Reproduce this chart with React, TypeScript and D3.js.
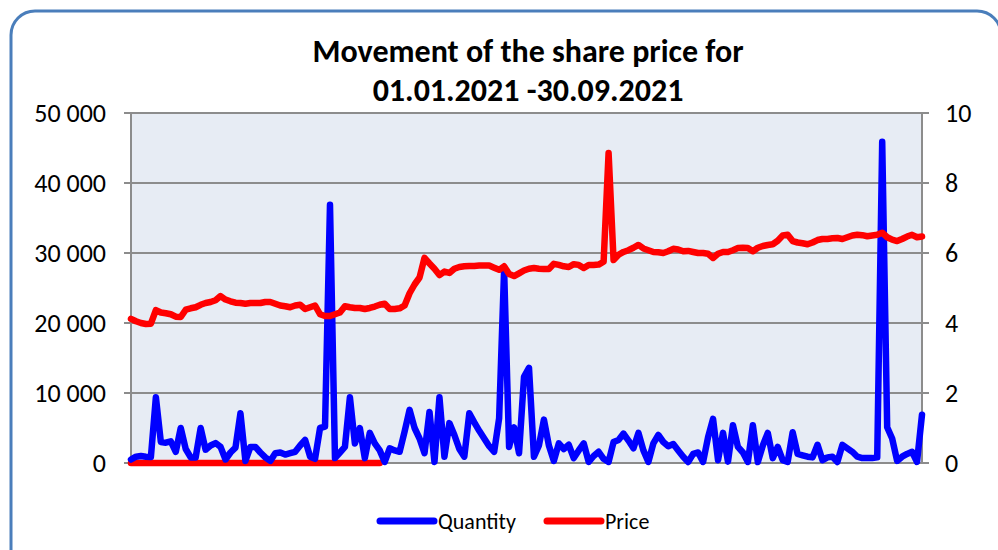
import React, { useRef, useEffect } from "react";
import * as d3 from "d3";

// trading days, Jan 1 - Sep 30 2021 (index only)
const quantity: number[] = [
	500, 900, 1000, 900, 850, 9400, 3000, 2900, 3100, 1600,
	5000, 2000, 800, 800, 5000, 1900, 2500, 2850, 2300, 500,
	1500, 2200, 7100, 300, 2300, 2300, 1500, 800, 300, 1400,
	1500, 1200, 1400, 1600, 2500, 3300, 900, 600, 5000, 5200,
	36900, 700, 1500, 2300, 9400, 2800, 5000, 700, 4300, 2800,
	1800, 150, 2100, 1800, 1600, 4500, 7600, 5000, 3500, 1400,
	7300, 150, 9400, 900, 5700, 4000, 2000, 900, 7100, 5800,
	4600, 3500, 2400, 1600, 6400, 27600, 2300, 5100, 1400, 12300,
	13600, 900, 2500, 6200, 2500, 300, 2800, 2000, 2600, 700,
	1800, 2800, 150, 1000, 1600, 600, 150, 3000, 3300, 4200,
	3200, 2100, 4300, 1800, 150, 2800, 4000, 3000, 2400, 2700,
	1800, 900, 150, 1300, 1500, 150, 3700, 6300, 400, 4300,
	200, 5400, 2300, 1500, 150, 5400, 150, 2500, 4300, 700,
	2300, 400, 150, 4400, 1300, 1100, 900, 800, 2600, 400,
	800, 900, 150, 2600, 2100, 1600, 900, 700, 700, 700,
	800, 45900, 5100, 3500, 300, 900, 1300, 1600, 150, 6900,
];

const price: number[] = [
	4.12, 4.05, 4.0, 3.97, 3.98, 4.37, 4.3, 4.28, 4.25, 4.18,
	4.17, 4.38, 4.42, 4.45, 4.52, 4.57, 4.6, 4.65, 4.77, 4.67,
	4.62, 4.58, 4.57, 4.55, 4.57, 4.57, 4.57, 4.6, 4.6, 4.55,
	4.5, 4.48, 4.45, 4.5, 4.52, 4.4, 4.45, 4.5, 4.25, 4.2,
	4.2, 4.25, 4.3, 4.48, 4.45, 4.43, 4.43, 4.4, 4.43, 4.47,
	4.52, 4.55, 4.4, 4.4, 4.42, 4.5, 4.85, 5.1, 5.3, 5.86,
	5.7, 5.55, 5.37, 5.47, 5.43, 5.55, 5.6, 5.62, 5.63, 5.63,
	5.64, 5.64, 5.64, 5.58, 5.52, 5.62, 5.4, 5.34, 5.42, 5.5,
	5.55, 5.57, 5.55, 5.54, 5.54, 5.69, 5.66, 5.62, 5.6, 5.68,
	5.66, 5.57, 5.66, 5.66, 5.67, 5.75, 8.86, 5.8, 5.95, 6.03,
	6.08, 6.15, 6.23, 6.13, 6.08, 6.03, 6.02, 6.0, 6.05, 6.12,
	6.1, 6.05, 6.06, 6.03, 6.0, 6.0, 5.98, 5.86, 5.98, 6.03,
	6.03, 6.08, 6.14, 6.15, 6.14, 6.05, 6.15, 6.2, 6.23, 6.25,
	6.35, 6.5, 6.52, 6.34, 6.3, 6.28, 6.25, 6.3, 6.37, 6.4,
	6.4, 6.42, 6.43, 6.4, 6.45, 6.5, 6.52, 6.51, 6.48, 6.5,
	6.52, 6.58, 6.45, 6.38, 6.34, 6.4, 6.47, 6.52, 6.45, 6.47,
];

// leftover red series lying on zero for the first weeks
const priceZeroDays = 51;

const leftTicks = [0, 10000, 20000, 30000, 40000, 50000];
const rightTicks = [0, 2, 4, 6, 8, 10];
const titleLines = ["Movement of the share price for", "01.01.2021 -30.09.2021"];
const seriesNames = ["Quantity", "Price"];
const seriesColors = ["#0000ff", "#ff0000"];

const W = 998;
const H = 550;
const FONT = "Carlito, Lato, 'Liberation Sans', sans-serif";

const ShareChart: React.FC = () => {
	const svgRef = useRef<SVGSVGElement | null>(null);

	useEffect(() => {
		if (!svgRef.current) return;
		const svg = d3.select(svgRef.current);
		svg.selectAll("*").remove();

		const plot = { left: 131, right: 922, top: 113, bottom: 463 };
		const n = quantity.length;

		const x = d3.scaleLinear().domain([0, n - 1]).range([plot.left, plot.right]);
		const yQty = d3.scaleLinear().domain([0, 50000]).range([plot.bottom, plot.top]);
		const yPrice = d3.scaleLinear().domain([0, 10]).range([plot.bottom, plot.top]);

		const fmt = d3
			.formatLocale({ decimal: ",", thousands: " ", grouping: [3], currency: ["", ""] })
			.format(",");

		// frame
		svg.append("rect")
			.attr("x", 11)
			.attr("y", 11)
			.attr("width", 990)
			.attr("height", 570)
			.attr("rx", 24)
			.attr("fill", "#ffffff")
			.attr("stroke", "#4a7ebb")
			.attr("stroke-width", 3);

		// title
		svg.append("text")
			.attr("font-family", FONT)
			.attr("font-weight", "bold")
			.attr("font-size", 32)
			.attr("text-anchor", "middle")
			.attr("fill", "#000")
			.selectAll("tspan")
			.data(titleLines)
			.enter()
			.append("tspan")
			.attr("x", 528)
			.attr("y", (_, i) => 62 + i * 39)
			.text((d) => d);

		// plot background
		svg.append("rect")
			.attr("x", plot.left)
			.attr("y", plot.top)
			.attr("width", plot.right - plot.left)
			.attr("height", plot.bottom - plot.top)
			.attr("fill", "#e7ecf4");

		// gridlines
		svg.append("g")
			.selectAll("line")
			.data(leftTicks)
			.enter()
			.append("line")
			.attr("x1", plot.left - 7)
			.attr("x2", plot.right + 7)
			.attr("y1", (d) => yQty(d))
			.attr("y2", (d) => yQty(d))
			.attr("stroke", "#8c8c8c")
			.attr("stroke-width", 2);

		[plot.left, plot.right].forEach((px) => {
			svg.append("line")
				.attr("x1", px)
				.attr("x2", px)
				.attr("y1", plot.top)
				.attr("y2", plot.bottom)
				.attr("stroke", "#8c8c8c")
				.attr("stroke-width", 2);
		});

		// axes
		const leftAxis = svg.append("g")
			.attr("transform", `translate(${plot.left - 7},0)`)
			.call(d3.axisLeft(yQty).tickValues(leftTicks).tickFormat((d) => fmt(+d)).tickSize(0).tickPadding(18));
		const rightAxis = svg.append("g")
			.attr("transform", `translate(${plot.right + 7},0)`)
			.call(d3.axisRight(yPrice).tickValues(rightTicks).tickFormat((d) => String(d)).tickSize(0).tickPadding(16));
		[leftAxis, rightAxis].forEach((a) => {
			a.select(".domain").remove();
			a.selectAll("text")
				.attr("font-family", FONT)
				.attr("font-size", 26)
				.attr("fill", "#000");
		});

		const lineQty = d3.line<number>()
			.x((_, i) => x(i))
			.y((d) => yQty(d));
		const linePrice = d3.line<number>()
			.x((_, i) => x(i))
			.y((d) => yPrice(d));
		const zeroLine = d3.line<number>()
			.x((_, i) => x(i))
			.y(() => yQty(0));

		const drawLine = (d: string | null, color: string) =>
			svg.append("path")
				.attr("d", d)
				.attr("fill", "none")
				.attr("stroke", color)
				.attr("stroke-width", 6.5)
				.attr("stroke-linejoin", "round")
				.attr("stroke-linecap", "round");

		drawLine(zeroLine(price.slice(0, priceZeroDays)), seriesColors[1]);
		drawLine(lineQty(quantity), seriesColors[0]);
		drawLine(linePrice(price), seriesColors[1]);

		// legend
		const legend = svg.append("g").attr("transform", "translate(380,521)");
		const offsets = [0, 167];
		seriesNames.forEach((name, i) => {
			const g = legend.append("g").attr("transform", `translate(${offsets[i]},0)`);
			g.append("line")
				.attr("x1", 0)
				.attr("x2", 54)
				.attr("stroke", seriesColors[i])
				.attr("stroke-width", 7)
				.attr("stroke-linecap", "round");
			g.append("text")
				.attr("x", 58)
				.attr("dy", "0.35em")
				.attr("font-family", FONT)
				.attr("font-size", 22)
				.attr("fill", "#000")
				.text(name);
		});
	}, []);

	return (
		<svg
			ref={svgRef}
			width={W}
			height={H}
			style={{ position: "absolute", left: 0, top: 0, background: "#fff" }}
		/>
	);
};

export default function App() {
	return <ShareChart />;
}
